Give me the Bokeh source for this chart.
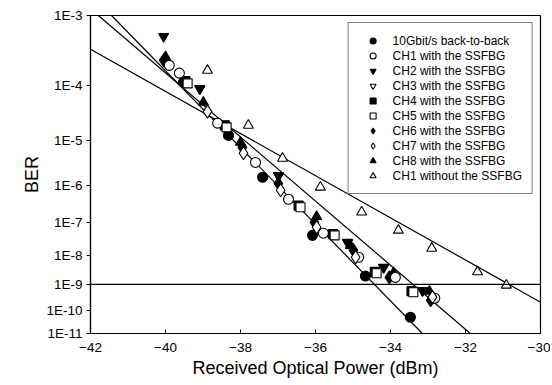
import numpy as np
from bokeh.plotting import figure
from bokeh.models import Range1d, FixedTicker, Span, Legend, LegendItem, CustomJSTickFormatter
from bokeh.embed import file_html
from bokeh.resources import INLINE

# ---- data (received power in dBm, BER) ----
b2b_x = [-39.52, -38.32, -37.41, -36.08, -34.67, -33.47]
b2b_ber = [1.14e-4, 1.27e-5, 1.55e-6, 4.3e-8, 2.0e-9, 5.1e-11]

ch1_x = [-39.9, -39.63, -38.61, -37.6, -36.72, -35.79, -34.85, -33.87, -32.82]
ch1_ber = [2.1e-4, 1.6e-4, 2.2e-5, 3.4e-6, 4.4e-7, 5.0e-8, 8.8e-9, 1.8e-9, 3.0e-10]

ch2_x = [-40.05, -39.09, -36.99, -35.15, -34.19, -33.15]
ch2_ber = [5.4e-4, 9.1e-5, 1.7e-6, 2.65e-8, 4.1e-9, 6.0e-10]

ch3_x = [-39.08, -36.98, -35.14, -34.18, -33.14]
ch3_ber = [9.0e-5, 1.68e-6, 2.6e-8, 4.0e-9, 5.9e-10]

ch4_x = [-39.47, -38.42, -36.45, -35.53, -34.42, -33.44]
ch4_ber = [1.2e-4, 2.0e-5, 3.0e-7, 4.7e-8, 2.8e-9, 5.6e-10]

ch5_x = [-39.41, -38.37, -36.4, -35.49, -34.37, -33.39]
ch5_ber = [1.1e-4, 1.83e-5, 2.7e-7, 4.3e-8, 2.5e-9, 5.1e-10]

ch6_x = [-40.05, -37.95, -36.99, -36.03, -34.99, -34.03, -32.93]
ch6_ber = [2.5e-4, 7.2e-6, 1.1e-6, 1.04e-7, 1.5e-8, 1.8e-9, 2.5e-10]

ch7_x = [-38.88, -37.92, -36.93, -35.97, -34.93, -32.88]
ch7_ber = [3.6e-5, 5.4e-6, 7.5e-7, 7.5e-8, 8.8e-9, 3.3e-10]

ch8_x = [-40.0, -38.99, -38.0, -35.97, -35.07, -33.92, -32.96]
ch8_ber = [2.8e-4, 5.3e-5, 9.2e-6, 1.5e-7, 2.1e-8, 2.6e-9, 5.5e-10]

wo_x = [-38.88, -37.79, -36.88, -35.87, -34.77, -33.79, -32.9, -31.68, -30.91]
wo_ber = [1.76e-4, 2.0e-5, 4.2e-6, 8.9e-7, 2.0e-7, 6.1e-8, 1.7e-8, 2.8e-9, 9.3e-10]

# fitted lines (end points)
fit_b2b_x = [-41.44, -33.15]
fit_b2b_ber = [1e-3, 1e-11]
fit_with_x = [-41.79, -31.87]
fit_with_ber = [1e-3, 1e-11]
fit_wo_x = [-42.0, -30.0]
fit_wo_ber = [3.6e-4, 2.1e-10]

x_ticks = [-42, -40, -38, -36, -34, -32, -30]
ber_ticks = [1e-3, 1e-4, 1e-5, 1e-6, 1e-7, 1e-8, 1e-9, 1e-10, 1e-11]
ber_limit = 1e-9


def tr(b):
    # BER axis: -log10(-log10(BER))
    return -np.log10(-np.log10(np.asarray(b, dtype=float)))


FONT = "Liberation Sans"

p = figure(width=550, height=383, output_backend="svg", toolbar_location=None,
           x_range=Range1d(-42, -30), y_range=Range1d(float(tr(1e-11)), float(tr(1e-3))),
           min_border_left=90, min_border_right=10, min_border_top=15, min_border_bottom=50)
p.grid.visible = False
p.outline_line_color = "black"
p.outline_line_width = 1.2
p.background_fill_color = "white"
p.border_fill_color = "white"

# axes
p.xaxis.ticker = FixedTicker(ticks=x_ticks)
p.xaxis.major_tick_in = 4
p.xaxis.major_tick_out = 0
p.xaxis.minor_tick_line_color = None
p.xaxis.major_label_standoff = 9
p.xaxis.axis_label = "Received Optical Power (dBm)"
p.xaxis.axis_label_standoff = 3

p.yaxis.ticker = FixedTicker(ticks=[float(v) for v in tr(ber_ticks)])
p.yaxis.formatter = CustomJSTickFormatter(code="return '1E-' + Math.round(Math.pow(10, -tick));")
p.yaxis.major_tick_in = 0
p.yaxis.major_tick_out = 4
p.yaxis.minor_tick_line_color = None
p.yaxis.major_label_standoff = 4
p.yaxis.axis_label = "BER"
p.yaxis.axis_label_standoff = 1

for ax in (p.xaxis[0], p.yaxis[0]):
    ax.axis_line_color = "black"
    ax.axis_line_width = 1.2
    ax.major_tick_line_color = "black"
    ax.major_label_text_font = FONT
    ax.major_label_text_font_size = "13.5px"
    ax.major_label_text_color = "black"
    ax.axis_label_text_font = FONT
    ax.axis_label_text_font_size = "18px"
    ax.axis_label_text_font_style = "normal"
    ax.axis_label_text_color = "black"

# fitted lines
for fx, fb in ((fit_b2b_x, fit_b2b_ber), (fit_with_x, fit_with_ber), (fit_wo_x, fit_wo_ber)):
    p.line(fx, tr(fb), line_color="black", line_width=1.2)

p.add_layout(Span(location=float(tr(ber_limit)), dimension="width", line_color="black", line_width=1.3))

S = 10
series = [
    ("10Gbit/s back-to-back", b2b_x, b2b_ber, "circle", "black"),
    ("CH1 with the SSFBG", ch1_x, ch1_ber, "circle", "white"),
    ("CH2 with the SSFBG", ch2_x, ch2_ber, "inverted_triangle", "black"),
    ("CH3 with the SSFBG", ch3_x, ch3_ber, "inverted_triangle", "white"),
    ("CH4 with the SSFBG", ch4_x, ch4_ber, "square", "black"),
    ("CH5 with the SSFBG", ch5_x, ch5_ber, "square", "white"),
    ("CH6 with the SSFBG", ch6_x, ch6_ber, "diamond", "black"),
    ("CH7 with the SSFBG", ch7_x, ch7_ber, "diamond", "white"),
    ("CH8 with the SSFBG", ch8_x, ch8_ber, "triangle", "black"),
    ("CH1 without the SSFBG", wo_x, wo_ber, "triangle", "white"),
]
# drawing order (legend keeps the order above)
draw_order = [3, 4, 2, 6, 8, 0, 1, 5, 7, 9]

renderers = {}
for i in draw_order:
    label, xs, bs, marker, fill = series[i]
    size = S + 3 if marker == "diamond" else (S - 1 if marker == "square" else S)
    renderers[i] = p.scatter(xs, tr(bs), marker=marker, size=size, fill_color=fill,
                             line_color="black", line_width=1.1)

items = [LegendItem(label=series[i][0], renderers=[renderers[i]]) for i in range(len(series))]

legend = Legend(items=items, location="top_right")
legend.border_line_color = "black"
legend.border_line_width = 1.2
legend.background_fill_color = "white"
legend.background_fill_alpha = 1.0
legend.label_text_font = FONT
legend.label_text_font_size = "12px"
legend.label_text_color = "black"
legend.padding = 10
legend.spacing = 0
legend.margin = 7
legend.label_height = 15
legend.glyph_height = 15
legend.glyph_width = 28
legend.label_standoff = 6
p.add_layout(legend)

open("out.html", "w").write(file_html(p, INLINE))
